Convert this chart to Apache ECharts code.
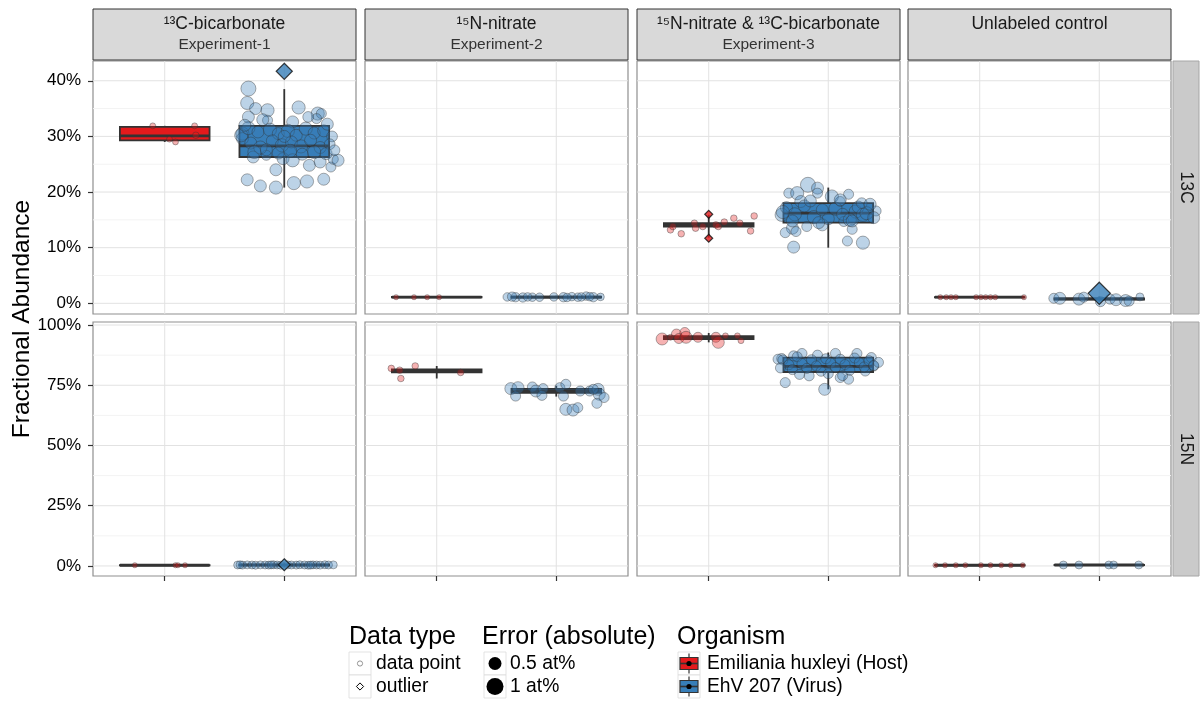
<!DOCTYPE html>
<html>
<head>
<meta charset="utf-8">
<script src="https://cdn.jsdelivr.net/npm/echarts@6/dist/echarts.min.js"></script>
<style>
html, body { margin: 0; padding: 0; background: #ffffff; }
#chart { width: 1203px; height: 701px; }
</style>
</head>
<body>
<div id="chart"></div>
<script>
// ---- Facets -------------------------------------------------------------
const experiments = ['¹³C-bicarbonate', '¹⁵N-nitrate', '¹⁵N-nitrate & ¹³C-bicarbonate', 'Unlabeled control'];
const experimentIds = ['Experiment-1', 'Experiment-2', 'Experiment-3', ''];
const isotopes = ['13C', '15N'];
const organisms = ['Emiliania huxleyi (Host)', 'EhV 207 (Virus)'];

// ---- Axis ticks (percent) -----------------------------------------------
const yTicks13C = [0, 10, 20, 30, 40];
const yMinor13C = [5, 15, 25, 35];
const yTicks15N = [0, 25, 50, 75, 100];
const yMinor15N = [12.5, 37.5, 62.5, 87.5];
const yLimits13C = [-1.92, 43.55];
const yLimits15N = [-4.17, 101.25];

// ---- Box statistics per experiment: [lower whisker, Q1, median, Q3, upper whisker]
const hostBox13C = [[29.0, 29.3, 30.1, 31.7, 31.9], [1.0, 1.05, 1.1, 1.15, 1.2], [11.8, 13.8, 14.1, 14.4, 15.9], [1.05, 1.08, 1.1, 1.12, 1.15]];
const virusBox13C = [[20.8, 26.3, 28.3, 31.9, 38.5], [0.95, 1.02, 1.1, 1.18, 1.35], [10.0, 14.5, 16.2, 18.0, 20.8], [0.3, 0.68, 0.8, 0.9, 1.2]];
const hostBox15N = [[0.25, 0.28, 0.3, 0.32, 0.35], [77.8, 80.4, 81.0, 81.6, 83.0], [92.8, 94.2, 94.7, 95.4, 96.7], [0.25, 0.28, 0.3, 0.32, 0.35]];
const virusBox15N = [[0.2, 0.3, 0.4, 0.5, 0.6], [70.3, 71.8, 72.6, 73.5, 74.8], [73.3, 80.5, 82.8, 86.5, 88.6], [0.3, 0.35, 0.4, 0.45, 0.5]];

// ---- Individual measurements: [jitter offset, fractional abundance %, error at%]
const hostPts13C = [
  [[-0.10, 31.9, 0.12], [0.25, 31.9, 0.12], [0.26, 30.2, 0.15], [0.04, 29.5, 0.12], [0.09, 29.0, 0.12]],
  [[-0.34, 1.1, 0.09], [-0.19, 1.1, 0.09], [-0.08, 1.1, 0.09], [0.02, 1.1, 0.09]],
  [[-0.32, 13.2, 0.15], [-0.23, 12.5, 0.15], [-0.30, 13.8, 0.15], [-0.12, 14.4, 0.15], [-0.11, 13.5, 0.15], [-0.05, 13.8, 0.15], [0.06, 14.1, 0.15], [0.08, 13.8, 0.15], [0.13, 14.6, 0.15], [0.21, 15.3, 0.15], [0.26, 14.4, 0.15], [0.35, 13.0, 0.15], [0.38, 15.7, 0.15]],
  [[-0.33, 1.1, 0.09], [-0.28, 1.1, 0.09], [-0.24, 1.1, 0.09], [-0.20, 1.1, 0.09], [-0.03, 1.1, 0.09], [0.01, 1.1, 0.09], [0.05, 1.1, 0.09], [0.09, 1.1, 0.09], [0.13, 1.1, 0.09], [0.37, 1.1, 0.09]]
];
const virusPts13C = [
  [[-0.30, 38.6, 0.78], [-0.31, 36.0, 0.6], [-0.24, 35.0, 0.5], [-0.14, 34.7, 0.6], [-0.30, 33.5, 0.5], [0.12, 35.2, 0.6], [0.28, 34.1, 0.6], [0.31, 34.1, 0.35], [0.27, 33.2, 0.35], [0.07, 32.6, 0.5], [-0.14, 32.9, 0.35], [-0.35, 30.5, 0.6], [-0.35, 29.6, 0.5], [-0.26, 26.3, 0.5], [-0.15, 26.6, 0.35], [-0.01, 26.0, 0.5], [0.07, 25.7, 0.6], [0.21, 24.8, 0.5], [0.30, 25.4, 0.5], [0.39, 24.5, 0.35], [0.41, 25.9, 0.35], [-0.07, 24.0, 0.5], [-0.31, 22.2, 0.5], [-0.20, 21.1, 0.5], [-0.07, 20.8, 0.6], [0.08, 21.6, 0.6], [0.19, 21.9, 0.6], [0.33, 22.3, 0.5], [0.45, 25.7, 0.5], [-0.36, 30.2, 0.6], [-0.30, 31.5, 0.6], [-0.22, 30.8, 0.5], [-0.12, 31.2, 0.6], [-0.05, 30.5, 0.5], [0.03, 31.0, 0.6], [0.10, 30.2, 0.5], [0.18, 31.4, 0.6], [0.25, 30.6, 0.5], [0.33, 31.0, 0.5], [0.40, 30.0, 0.4], [-0.28, 28.8, 0.5], [-0.20, 28.0, 0.6], [-0.10, 29.2, 0.5], [-0.02, 28.4, 0.6], [0.06, 29.0, 0.5], [0.14, 28.2, 0.6], [0.22, 29.3, 0.5], [0.30, 28.0, 0.5], [0.38, 28.6, 0.4], [-0.25, 27.2, 0.6], [-0.15, 27.6, 0.5], [-0.05, 27.0, 0.5], [0.05, 27.4, 0.6], [0.15, 26.8, 0.5], [0.25, 27.2, 0.6], [0.35, 26.9, 0.5], [0.42, 27.5, 0.4], [0.00, 30.0, 0.5], [-0.33, 32.0, 0.5], [0.36, 32.2, 0.5], [0.20, 33.5, 0.4], [-0.18, 33.0, 0.5]],
  [[-0.41, 1.15, 0.25], [-0.34, 1.1, 0.3], [-0.28, 1.05, 0.3], [-0.20, 1.1, 0.25], [-0.14, 1.1, 0.25], [-0.02, 1.15, 0.25], [0.06, 1.1, 0.3], [0.13, 1.2, 0.25], [0.18, 1.1, 0.25], [0.25, 1.3, 0.25], [0.31, 1.1, 0.3], [0.37, 1.15, 0.2], [-0.37, 1.2, 0.3], [-0.24, 1.15, 0.25], [0.09, 1.05, 0.25], [0.21, 1.15, 0.25], [0.28, 1.2, 0.25]],
  [[-0.33, 19.8, 0.35], [-0.17, 21.3, 0.78], [-0.09, 20.7, 0.5], [-0.26, 19.8, 0.6], [0.03, 19.2, 0.6], [0.17, 19.6, 0.35], [-0.09, 19.8, 0.35], [0.10, 18.3, 0.35], [-0.23, 18.3, 0.5], [-0.39, 15.9, 0.6], [0.40, 16.6, 0.35], [0.23, 16.5, 0.6], [0.29, 15.9, 0.6], [-0.30, 13.5, 0.5], [-0.36, 12.7, 0.35], [-0.27, 12.9, 0.35], [-0.18, 13.8, 0.35], [-0.05, 14.1, 0.5], [0.13, 14.7, 0.35], [0.20, 13.3, 0.35], [0.16, 11.2, 0.35], [0.29, 10.9, 0.6], [-0.29, 10.1, 0.5],
   [-0.35, 17.2, 0.5], [-0.28, 16.0, 0.6], [-0.20, 17.5, 0.5], [-0.12, 15.5, 0.6], [-0.05, 16.8, 0.5], [0.00, 15.2, 0.5], [0.06, 17.0, 0.6], [0.12, 16.0, 0.5], [0.18, 15.0, 0.6], [0.25, 17.3, 0.5], [0.32, 16.2, 0.6], [0.38, 15.4, 0.5], [-0.30, 14.8, 0.5], [-0.15, 18.4, 0.5], [0.10, 18.6, 0.5], [0.28, 18.0, 0.4], [-0.08, 14.5, 0.5], [0.20, 14.8, 0.5], [0.35, 17.8, 0.5], [-0.38, 16.4, 0.6]],
  [[-0.38, 0.9, 0.35], [-0.33, 0.9, 0.5], [-0.17, 0.75, 0.5], [-0.13, 1.1, 0.35], [0.01, 0.3, 0.35], [0.09, 0.75, 0.35], [0.14, 0.65, 0.5], [0.22, 0.5, 0.5], [0.25, 0.4, 0.35], [0.34, 1.15, 0.22]]
];
const hostPts15N = [
  [[-0.25, 0.3, 0.09], [0.09, 0.3, 0.09], [0.11, 0.3, 0.09], [0.17, 0.3, 0.09]],
  [[-0.38, 82.0, 0.15], [-0.31, 81.25, 0.15], [-0.30, 77.8, 0.15], [-0.18, 83.0, 0.15], [0.20, 80.3, 0.15]],
  [[-0.39, 94.2, 0.5], [-0.27, 96.25, 0.35], [-0.25, 94.4, 0.35], [-0.20, 96.9, 0.35], [-0.19, 94.9, 0.5], [-0.09, 94.9, 0.35], [0.06, 94.9, 0.35], [0.08, 92.8, 0.5], [0.14, 95.5, 0.12], [0.24, 95.5, 0.12], [0.27, 93.5, 0.12], [-0.32, 94.9, 0.12]],
  [[-0.37, 0.3, 0.09], [-0.29, 0.3, 0.09], [-0.20, 0.3, 0.09], [-0.12, 0.3, 0.09], [0.01, 0.3, 0.09], [0.09, 0.3, 0.09], [0.18, 0.3, 0.09], [0.26, 0.3, 0.09], [0.36, 0.3, 0.09]]
];
const virusPts15N = [
  [[-0.39, 0.4, 0.22], [-0.35, 0.35, 0.22], [-0.31, 0.45, 0.22], [-0.27, 0.4, 0.22], [-0.24, 0.3, 0.22], [-0.20, 0.45, 0.22], [-0.16, 0.4, 0.22], [-0.13, 0.35, 0.22], [-0.09, 0.5, 0.22], [-0.06, 0.4, 0.22], [-0.03, 0.3, 0.22], [0.03, 0.45, 0.22], [0.06, 0.4, 0.22], [0.10, 0.35, 0.22], [0.13, 0.5, 0.22], [0.17, 0.4, 0.22], [0.20, 0.3, 0.22], [0.24, 0.45, 0.22], [0.27, 0.4, 0.22], [0.30, 0.35, 0.22], [0.34, 0.5, 0.22], [0.37, 0.4, 0.22], [0.41, 0.45, 0.22], [-0.37, 0.5, 0.22], [0.22, 0.35, 0.22], [-0.11, 0.45, 0.22]],
  [[-0.38, 73.6, 0.5], [-0.32, 74.0, 0.5], [-0.34, 70.5, 0.35], [-0.20, 74.3, 0.35], [-0.17, 72.6, 0.5], [-0.11, 73.6, 0.35], [-0.12, 70.8, 0.35], [0.03, 74.0, 0.35], [0.08, 75.4, 0.35], [0.06, 70.5, 0.35], [0.08, 65.0, 0.5], [0.14, 64.7, 0.5], [0.18, 65.7, 0.35], [0.20, 72.6, 0.35], [0.28, 72.6, 0.35], [0.35, 73.3, 0.5], [0.36, 71.25, 0.5], [0.40, 69.9, 0.35], [0.34, 67.5, 0.35], [0.31, 73.3, 0.35]],
  [[-0.36, 76.1, 0.35], [-0.03, 73.3, 0.5], [-0.16, 78.9, 0.35], [0.17, 77.5, 0.35], [0.10, 78.2, 0.35], [0.24, 88.2, 0.35], [-0.22, 88.2, 0.35], [-0.29, 87.2, 0.35], [-0.09, 87.5, 0.35], [0.06, 88.2, 0.35], [-0.39, 86.1, 0.35], [0.36, 86.5, 0.35], [0.38, 83.0, 0.35], [0.31, 80.9, 0.35], [-0.42, 85.8, 0.35],
   [-0.38, 85.5, 0.35], [-0.33, 83.5, 0.35], [-0.30, 81.5, 0.35], [-0.26, 86.8, 0.35], [-0.22, 84.0, 0.35], [-0.18, 82.0, 0.35], [-0.14, 85.6, 0.35], [-0.10, 83.0, 0.35], [-0.06, 80.8, 0.35], [-0.02, 86.0, 0.35], [0.02, 84.2, 0.35], [0.06, 82.3, 0.35], [0.10, 85.8, 0.35], [0.14, 83.6, 0.35], [0.18, 81.2, 0.35], [0.22, 86.3, 0.35], [0.26, 84.4, 0.35], [0.30, 82.6, 0.35], [0.34, 85.2, 0.35], [0.38, 83.2, 0.35], [0.42, 84.5, 0.35], [-0.40, 82.2, 0.35], [0.00, 79.8, 0.35], [-0.24, 79.5, 0.35], [0.12, 79.0, 0.35]],
  [[-0.30, 0.4, 0.22], [-0.17, 0.4, 0.22], [0.08, 0.4, 0.22], [0.12, 0.4, 0.22], [0.33, 0.4, 0.22]]
];

// ---- Values flagged as outliers: [jitter offset, %, error at%]
const hostOut13C = [[], [], [[0, 16.0, 0.22], [0, 11.7, 0.22]], []];
const virusOut13C = [[[0, 41.7, 0.9]], [], [], [[0, 1.8, 1.7]]];
const hostOut15N = [[], [], [], []];
const virusOut15N = [[[0, 0.5, 0.5]], [], [], []];

// ---- Layout and style ----------------------------------------------------
const FONT = '"Liberation Sans", Arial, Helvetica, sans-serif';
const ORG_COLOR = ['#E41A1C', '#377EB8'];
const ORG_POINT = ['rgba(228,26,28,0.42)', 'rgba(55,126,184,0.42)'];
const PANEL_LEFT = [93, 365, 637, 908];
const PANEL_W = 263;
const ROW_TOP = [61, 322];
const ROW_H = [253, 254];
const BOX_WIDTH = 0.75;
const SIZE_K = 17;
const LINE_DARK = '#333333';

const rowSpec = [
  { ticks: yTicks13C, minor: yMinor13C, lim: yLimits13C, box: [hostBox13C, virusBox13C], pts: [hostPts13C, virusPts13C], out: [hostOut13C, virusOut13C] },
  { ticks: yTicks15N, minor: yMinor15N, lim: yLimits15N, box: [hostBox15N, virusBox15N], pts: [hostPts15N, virusPts15N], out: [hostOut15N, virusOut15N] }
];

function renderHGrid(params, api) {
  const cs = params.coordSys;
  const y = api.coord([1, api.value(1)])[1];
  const major = api.value(2) === 1;
  return { type: 'line', shape: { x1: cs.x, y1: y, x2: cs.x + cs.width, y2: y },
    style: { stroke: major ? '#e2e2e2' : '#f3f3f3', lineWidth: 1 } };
}
function renderVGrid(params, api) {
  const cs = params.coordSys;
  const x = api.coord([api.value(0), 0])[0];
  return { type: 'line', shape: { x1: x, y1: cs.y, x2: x, y2: cs.y + cs.height },
    style: { stroke: '#e2e2e2', lineWidth: 1 } };
}
function renderBox(params, api) {
  const x = api.value(0);
  const p = [1, 2, 3, 4, 5].map(i => api.coord([x, api.value(i)]));
  const cx = p[0][0];
  const half = api.size([BOX_WIDTH, 0])[0] / 2;
  const fill = ORG_COLOR[api.value(6)];
  return { type: 'group', children: [
    { type: 'line', shape: { x1: cx, y1: p[4][1], x2: cx, y2: p[3][1] }, style: { stroke: LINE_DARK, lineWidth: 1.8 } },
    { type: 'line', shape: { x1: cx, y1: p[1][1], x2: cx, y2: p[0][1] }, style: { stroke: LINE_DARK, lineWidth: 1.8 } },
    { type: 'rect', shape: { x: cx - half, y: p[3][1], width: 2 * half, height: p[1][1] - p[3][1] }, style: { fill: fill, stroke: LINE_DARK, lineWidth: 1.8 } },
    { type: 'line', shape: { x1: cx - half, y1: p[2][1], x2: cx + half, y2: p[2][1] }, style: { stroke: LINE_DARK, lineWidth: 2.8 } }
  ] };
}

const grids = [], xAxes = [], yAxes = [], series = [];
rowSpec.forEach((row, r) => {
  experiments.forEach((exp, c) => {
    const gi = r * 4 + c;
    grids.push({ left: PANEL_LEFT[c], top: ROW_TOP[r], width: PANEL_W, height: ROW_H[r],
      show: true, borderColor: '#8f8f8f', borderWidth: 1.2, backgroundColor: 'transparent' });
    xAxes.push({ gridIndex: gi, type: 'value', min: 0.4, max: 2.6, position: 'bottom',
      axisLine: { show: false, onZero: false }, splitLine: { show: false }, axisLabel: { show: false },
      axisTick: { show: r === 1, customValues: [1, 2], length: 5, lineStyle: { color: LINE_DARK, width: 1.2 } } });
    yAxes.push({ gridIndex: gi, type: 'value', min: row.lim[0], max: row.lim[1], position: 'left',
      axisLine: { show: false, onZero: false }, splitLine: { show: false },
      axisTick: { show: c === 0, customValues: row.ticks, length: 5, lineStyle: { color: LINE_DARK, width: 1.2 } },
      axisLabel: { show: c === 0, customValues: row.ticks, formatter: v => v + '%', fontSize: 17, color: '#000', fontFamily: FONT, margin: 12 } });

    // panel gridlines
    series.push({ type: 'custom', xAxisIndex: gi, yAxisIndex: gi, silent: true, z: 1,
      renderItem: renderHGrid, encode: { x: 0, y: 1 },
      data: row.ticks.map(v => [1, v, 1]).concat(row.minor.map(v => [1, v, 0])) });
    series.push({ type: 'custom', xAxisIndex: gi, yAxisIndex: gi, silent: true, z: 1,
      renderItem: renderVGrid, encode: { x: 0, y: 1 }, data: [[1, 0], [2, 0]] });

    // boxes
    series.push({ type: 'custom', xAxisIndex: gi, yAxisIndex: gi, silent: true, z: 2,
      renderItem: renderBox, encode: { x: 0, y: [1, 2, 3, 4, 5] },
      data: [0, 1].map(o => [o + 1].concat(row.box[o][c]).concat([o])) });

    // jittered measurements and outliers
    [0, 1].forEach(o => {
      series.push({ type: 'scatter', xAxisIndex: gi, yAxisIndex: gi, silent: true, z: 3,
        symbol: 'circle', symbolSize: v => SIZE_K * Math.sqrt(v[2]),
        itemStyle: { color: ORG_POINT[o], borderColor: 'rgba(50,50,50,0.5)', borderWidth: 1 },
        data: row.pts[o][c].map(p => [o + 1 + p[0], p[1], p[2]]) });
      series.push({ type: 'scatter', xAxisIndex: gi, yAxisIndex: gi, silent: true, z: 4,
        symbol: 'diamond', symbolSize: v => SIZE_K * Math.sqrt(v[2]),
        itemStyle: { color: ORG_COLOR[o], borderColor: '#111', borderWidth: 1.2 },
        data: row.out[o][c].map(p => [o + 1 + p[0], p[1], p[2]]) });
    });
  });
});

// ---- Strips, axis title and legend ---------------------------------------
const graphic = [];
function text(x, y, str, size, color, opts) {
  return Object.assign({ type: 'text', x: x, y: y, silent: true, z: 10,
    style: { text: str, fontSize: size, fontFamily: FONT, fill: color,
      align: 'center', verticalAlign: 'middle', textAlign: 'center', textVerticalAlign: 'middle' } }, opts || {});
}
experiments.forEach((exp, c) => {
  const cx = PANEL_LEFT[c] + PANEL_W / 2;
  graphic.push({ type: 'rect', silent: true, z: 9, shape: { x: PANEL_LEFT[c], y: 9, width: PANEL_W, height: 51 },
    style: { fill: '#d9d9d9', stroke: '#333', lineWidth: 1 } });
  graphic.push(text(cx, 24, exp, 17.5, '#1a1a1a'));
  if (experimentIds[c]) graphic.push(text(cx, 45, experimentIds[c], 15.5, '#333'));
});
isotopes.forEach((iso, r) => {
  graphic.push({ type: 'rect', silent: true, z: 9, shape: { x: 1173, y: ROW_TOP[r], width: 26, height: ROW_H[r] },
    style: { fill: '#cacaca', stroke: '#a6a6a6', lineWidth: 1 } });
  graphic.push(text(1186, ROW_TOP[r] + ROW_H[r] / 2, iso, 17.5, '#1a1a1a', { rotation: -Math.PI / 2 }));
});
graphic.push(text(22, 319, 'Fractional Abundance', 24.5, '#000', { rotation: Math.PI / 2 }));

// legend
const LEG_ROW = [663.5, 686.5];
function keyBox(x, y) {
  return { type: 'rect', silent: true, z: 9, shape: { x: x, y: y - 11.5, width: 22, height: 23 },
    style: { fill: '#fff', stroke: '#dcdcdc', lineWidth: 0.8 } };
}
function leftText(x, y, str, size) {
  return { type: 'text', x: x, y: y, silent: true, z: 10,
    style: { text: str, fontSize: size, fontFamily: FONT, fill: '#000',
      align: 'left', verticalAlign: 'middle', textAlign: 'left', textVerticalAlign: 'middle' } };
}
graphic.push(leftText(349, 637, 'Data type', 25));
graphic.push(leftText(482, 637, 'Error (absolute)', 25));
graphic.push(leftText(677, 637, 'Organism', 25));

const dataTypes = ['data point', 'outlier'];
const errorLevels = ['0.5 at%', '1 at%'];
const errorKeyRadius = [6.5, 8.5];
const LABEL_SIZE = 19.3;
dataTypes.forEach((lab, i) => {
  graphic.push(keyBox(349, LEG_ROW[i]));
  graphic.push(leftText(376, LEG_ROW[i], lab, LABEL_SIZE));
});
graphic.push({ type: 'circle', silent: true, z: 10, shape: { cx: 360, cy: LEG_ROW[0], r: 2.6 },
  style: { fill: 'none', stroke: '#888', lineWidth: 0.9 } });
graphic.push({ type: 'polygon', silent: true, z: 10,
  shape: { points: [[360, LEG_ROW[1] - 3.6], [363.6, LEG_ROW[1]], [360, LEG_ROW[1] + 3.6], [356.4, LEG_ROW[1]]] },
  style: { fill: 'none', stroke: '#000', lineWidth: 1 } });
errorLevels.forEach((lab, i) => {
  graphic.push(keyBox(484, LEG_ROW[i]));
  graphic.push({ type: 'circle', silent: true, z: 10, shape: { cx: 495, cy: LEG_ROW[i], r: errorKeyRadius[i] },
    style: { fill: '#000' } });
  graphic.push(leftText(510, LEG_ROW[i], lab, LABEL_SIZE));
});
organisms.forEach((lab, i) => {
  const y = LEG_ROW[i], cx = 689;
  graphic.push(keyBox(678, y));
  graphic.push({ type: 'line', silent: true, z: 10, shape: { x1: cx, y1: y - 10, x2: cx, y2: y + 10 },
    style: { stroke: LINE_DARK, lineWidth: 1.2 } });
  graphic.push({ type: 'rect', silent: true, z: 10, shape: { x: 680, y: y - 6, width: 18, height: 12 },
    style: { fill: ORG_COLOR[i], stroke: LINE_DARK, lineWidth: 1.2 } });
  graphic.push({ type: 'line', silent: true, z: 10, shape: { x1: 680, y1: y, x2: 698, y2: y },
    style: { stroke: LINE_DARK, lineWidth: 1.6 } });
  graphic.push({ type: 'circle', silent: true, z: 11, shape: { cx: cx, cy: y, r: 2.6 }, style: { fill: '#000' } });
  graphic.push(leftText(707, y, lab, LABEL_SIZE));
});

const chart = echarts.init(document.getElementById('chart'), null, { renderer: 'canvas' });
chart.setOption({
  backgroundColor: '#ffffff',
  animation: false,
  textStyle: { fontFamily: FONT },
  grid: grids,
  xAxis: xAxes,
  yAxis: yAxes,
  series: series,
  graphic: graphic
});
</script>
</body>
</html>
